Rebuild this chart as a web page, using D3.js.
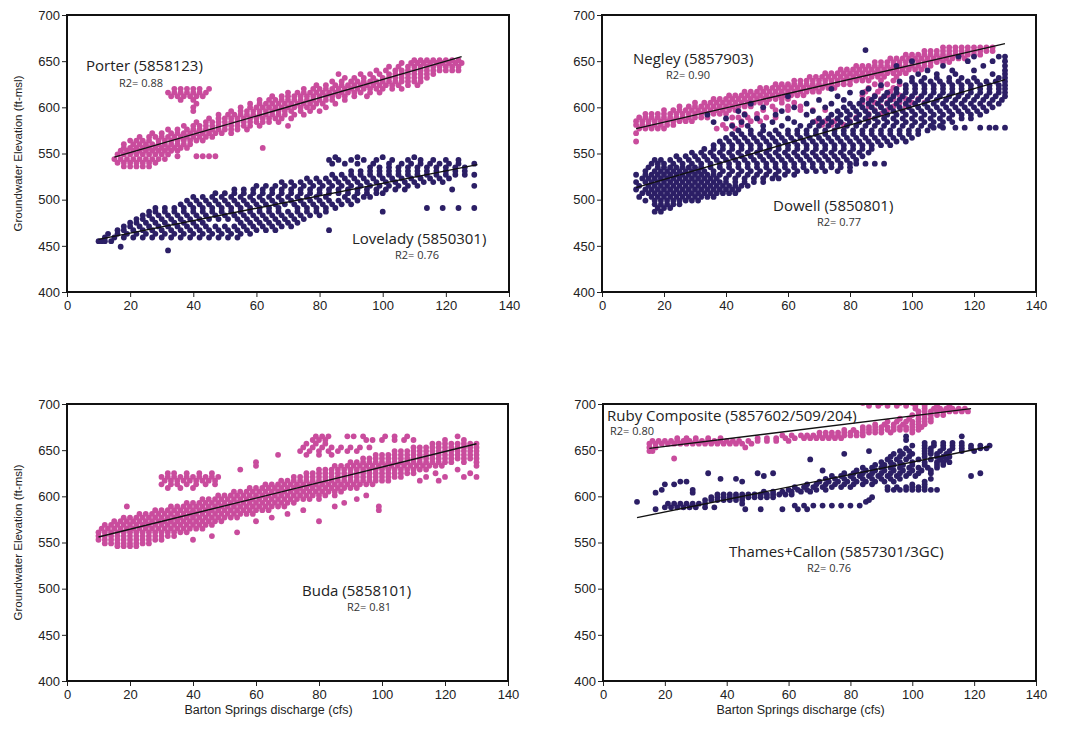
<!DOCTYPE html>
<html><head><meta charset="utf-8">
<script src="https://cdn.jsdelivr.net/npm/d3@7"></script>
<style>body{margin:0;background:#fff}</style>
</head><body>
<svg id="chart" width="1069" height="730"></svg>
<script>
// ---------- DATA ----------
const xTicks = [0,20,40,60,80,100,120,140];
const yTicks = [400,450,500,550,600,650,700];
const xDomain = [0,140];
const yDomain = [400,700];
const xTitle = "Barton Springs discharge (cfs)";
const yTitle = "Groundwater Elevation (ft-msl)";

const seriesNames = ["Porter (5858123)","Lovelady (5850301)","Negley (5857903)","Dowell (5850801)","Buda (5858101)","Ruby Composite (5857602/509/204)","Thames+Callon (5857301/3GC)"];
const r2Labels = ["R2= 0.88","R2= 0.76","R2= 0.90","R2= 0.77","R2= 0.81","R2= 0.80","R2= 0.76"];

// regression lines [x1,y1,x2,y2]
const porterFit = [15,546,125,655];
const loveladyFit = [10,457,130,538];
const negleyFit = [11,577,130,669];
const dowellFit = [11,513,130,630];
const budaFit = [10,556,130,657];
const rubyFit = [15,652,119,695];
const thamesFit = [11,577,125,654];

// rows: [elevation, discharge, discharge, ...]
const porterRows = [
[536,18,20,22,24,26],
[540,16,18,20,22,24,26,28],
[544,15,17,19,21,23,25,27,29,31],
[547,35,41,43,45,47],
[549,16,18,20,22,24,26,28,30,32],
[553,17,19,21,23,25,27,29,31,33,35],
[556,18,20,22,24,26,28,30,32,34,36,38,62],
[560,18,21,23,25,27,29,31,33,35,37,39],
[564,20,22,24,26,29,31,33,35,37,39,41,43],
[568,23,26,28,30,32,34,36,38,40,42,44,46],
[572,27,30,33,35,37,39,41,43,45,47,49,52],
[576,32,35,38,40,42,44,46,48,50,52,54,57],
[580,37,40,42,44,46,48,50,52,54,56,58,61,70],
[584,41,44,46,48,50,52,54,56,58,60,62,64,67],
[588,45,48,50,52,54,56,58,60,62,64,66,68,71],
[592,48,51,53,55,57,59,61,63,65,67,69,72,75],
[596,40,52,55,57,59,61,63,65,67,69,71,74,77,80],
[600,40,55,58,60,62,64,66,68,70,72,74,76,78,82],
[604,41,58,61,63,65,67,69,71,73,75,77,79,81,85],
[608,36,40,61,64,66,68,70,72,74,76,78,80,82,84,88],
[612,33,35,37,39,41,43,65,68,70,72,74,76,78,80,82,84,86,88,91,95],
[616,32,34,36,38,40,42,44,70,73,75,77,79,81,83,85,87,89,91,93,96,99],
[620,34,36,38,40,42,45,75,78,80,82,84,86,88,90,92,94,96,98,100,103,106],
[624,79,82,85,87,89,91,93,95,97,99,101,103,105,108,111],
[628,84,87,90,92,94,96,98,100,102,104,106,108,110,112],
[632,88,91,94,97,100,102,104,106,108,110,112,114],
[636,86,93,96,99,102,104,106,108,110,112,114,116],
[640,98,101,104,106,108,110,112,114,116,118,120,122,124],
[644,102,105,108,110,112,114,116,118,120,122,124],
[648,106,109,111,113,115,117,119,121,123,125],
[651,110,112,114,116,118,120,122,124]
];
const loveladyRows = [
[445,32],
[449,17],
[455,10,11,12,14],
[459,12,15,18,21,24,27,30,33,36,39,42,45,48,51,54],
[463,13,16,19,22,25,28,31,34,37,40,43,46,49,52,55,58],
[467,16,18,21,24,27,30,33,36,39,42,45,48,51,54,57,60,63,66,83],
[471,18,20,23,26,29,32,35,38,41,44,47,50,53,56,59,62,65,68,71],
[475,20,22,25,28,31,34,37,40,43,55,58,61,64,67,70,73],
[479,22,24,27,30,33,36,39,42,45,48,51,54,57,60,63,66,69,72,75],
[483,24,26,29,32,35,38,41,44,47,50,53,56,59,62,65,68,71,74,77,80],
[487,26,28,31,34,37,40,43,46,49,52,55,58,61,64,67,70,73,76,79,82,100],
[491,28,31,34,37,40,43,46,49,52,55,58,61,64,67,73,76,79,82,85,114,119,124,129],
[495,36,39,42,45,48,51,54,57,60,63,66,69,72,75,78,81,84,87,90],
[499,38,41,44,47,50,53,56,59,62,65,68,71,74,77,80,83,86,89,92],
[503,40,43,46,49,52,55,58,61,64,67,70,73,76,79,82,88,91,94,96],
[507,47,50,53,56,59,62,65,68,71,74,77,80,83,86,89,92,95,98,100],
[511,53,56,59,62,65,68,71,74,77,80,83,86,89,92,95,98,101,104,107,122],
[515,60,63,66,69,72,75,78,81,84,87,90,93,96,99,102,105,108,111,129],
[519,68,71,74,77,80,83,86,89,92,95,98,101,104,107,110,113,116,119],
[523,76,79,82,85,88,91,94,97,100,103,106,109,112,115,118,121],
[527,84,87,90,93,96,99,102,105,108,111,114,117,120,123,126,129],
[531,90,93,96,99,102,105,108,111,114,117,120,123,126],
[535,96,99,102,105,108,111,114,117,120,123,126],
[539,84,88,92,97,102,106,109,112,115,118,121,124,129],
[543,83,86,90,94,98,103,108,112,116,120,124],
[546,85,92,100,110]
];
const negleyRows = [
[563,11],
[572,11],
[577,12,14,16,18,20,37,40,43],
[581,11,13,15,17,19,21,23,39,42,45,71,74,78],
[585,11,13,15,17,19,21,23,25,27,29,45,48,51,69,72,75,80],
[589,12,14,16,18,20,22,24,26,28,30,32,34,42,44,47,50,53,56,82,86],
[593,14,16,18,20,22,24,26,28,30,32,34,36,38,40,46,50,86,90],
[597,20,23,25,27,29,31,33,35,37,39,41,43,52,56,60,64,68,72,88,92],
[601,25,28,30,32,34,36,38,40,42,44,46,48,55,60,64,86,90,94,98],
[605,30,33,35,37,39,41,43,45,47,49,51,53,58,62,84,88,92,96,100,104],
[609,36,38,40,42,44,46,48,50,52,54,56,58,60,86,90,94,98,102],
[613,41,43,45,47,49,51,53,55,57,59,61,63,65,84,88,92,96],
[617,46,48,50,52,54,56,58,60,62,64,66,68,70,85,89,93],
[621,51,53,55,57,59,61,63,65,67,69,71,73,75,86,90,94],
[625,56,58,60,62,64,66,68,70,72,74,76,78,80,88,92,96],
[629,62,64,66,68,70,72,74,76,78,80,82,84,86,90,94],
[633,67,69,71,73,75,77,79,81,83,85,87,89,91,95],
[637,72,74,76,78,80,82,84,86,88,90,92,94,96,98],
[641,77,79,81,83,85,87,89,91,93,95,97,99,101,103],
[645,82,84,86,88,90,92,94,96,98,100,102,104,106],
[649,88,90,92,94,96,98,100,102,104,106,108,110,112],
[653,93,95,97,99,101,103,105,107,109,111,113,115,117],
[657,98,100,102,104,106,108,110,112,114,116,118,120,122],
[661,104,106,108,110,112,114,116,118,120,122,124,126],
[665,110,112,114,116,118,120,122,124,126]
];
const dowellRows = [
[487,17,19],
[491,18,20,22],
[495,17,19,21,23,25],
[499,14,17,19,21,23,25,27,29,31],
[503,12,16,18,20,22,24,26,28,30,32,34,36],
[507,13,15,17,19,21,23,25,27,29,31,33,35,37,39,41,43],
[511,11,14,16,18,20,22,24,26,28,30,32,34,36,38,40,42,44],
[515,12,15,17,19,21,23,25,27,29,31,33,35,37,39,41,43,45,47],
[519,11,14,16,18,20,22,24,26,28,30,32,34,36,38,40,43,46,49,52],
[523,13,15,17,19,21,23,25,27,29,31,33,35,37,40,43,46,49,52,55,57],
[527,11,14,16,18,20,22,24,26,28,30,32,34,36,38,41,44,47,50,53,56,59,62],
[531,14,17,19,21,23,25,27,29,31,33,36,39,42,45,48,51,54,57,60,63,66,69,72,76,80],
[535,15,18,20,22,24,26,28,30,32,35,38,41,44,47,50,53,56,59,62,65,68,71,74,77,80],
[539,16,18,20,23,26,29,32,35,38,41,44,47,50,53,56,59,62,65,68,71,74,77,80,82,85,88,91],
[543,17,19,22,25,28,31,34,37,40,43,46,49,52,55,58,61,64,67,70,73,76,79,82],
[547,24,27,30,33,36,39,42,45,48,51,54,57,60,63,66,69,72,75,78,81,84],
[551,29,32,35,38,41,44,47,50,53,56,59,62,65,68,71,74,77,80,83,86],
[555,33,36,39,42,45,48,51,54,57,60,63,66,69,72,75,78,81,84,87],
[559,36,39,42,45,48,51,54,57,60,63,66,69,72,75,78,81,84,87,90,93],
[563,38,41,44,47,50,53,56,59,62,65,68,71,74,77,80,83,86,89,92,95,98],
[567,40,43,46,49,52,55,58,61,64,67,70,73,76,79,82,85,88,91,94,97,100],
[571,42,45,48,51,54,57,60,63,66,69,72,75,78,81,84,87,90,93,96,99,102],
[575,44,48,52,56,60,63,66,69,72,75,78,81,84,87,90,93,96,99,102,105],
[578,107,110,114,117,122,125,127,130],
[580,42,47,52,58,64,67,70,73,76,79,82,85,88,91,94,97,100,103,106,109],
[584,36,45,55,62,68,71,74,77,80,83,86,89,92,95,98,101,104,107,110,113],
[588,40,50,60,70,73,76,79,82,85,88,91,94,97,100,103,106,109,112,116,119],
[592,34,46,56,66,74,77,80,83,86,89,92,95,98,101,104,107,110,113,116,119,122],
[596,44,58,68,76,79,82,85,88,91,94,97,100,103,106,109,112,115,118,121,124],
[600,52,62,72,78,81,84,87,90,93,96,99,102,105,108,111,114,117,120,123,126],
[604,48,66,74,80,83,86,89,92,95,98,101,104,107,110,113,116,119,122,125,128],
[608,70,78,84,87,90,93,96,99,102,105,108,111,114,117,120,123,126,129],
[612,60,76,88,91,94,97,100,103,106,109,112,115,118,121,124,127,130],
[616,80,84,92,95,98,101,104,107,110,113,116,119,122,125,128,130],
[620,74,86,95,98,101,104,107,110,113,116,119,122,125,128,130],
[624,90,98,101,104,107,110,113,116,119,122,125,128,130],
[628,96,100,103,106,109,112,115,118,121,124,127,130],
[632,100,104,108,112,116,120,128,130],
[636,102,108,114,126,130],
[640,105,113,120,130],
[645,95,110,123,130],
[650,100,118,126,130],
[655,115,120,128,130],
[662,85]
];
const budaRows = [
[546,16,18,20,22],
[549,12,14,16,18,20,22,24,26],
[553,10,12,14,16,18,20,22,24,26,28,30,40],
[557,10,12,14,16,18,20,22,24,26,28,30,32,34,46],
[561,10,12,14,16,18,20,22,24,26,28,30,32,34,36,38,54],
[565,11,13,15,17,19,21,23,25,27,29,31,33,35,37,39,41,43],
[569,12,14,16,18,20,22,24,26,28,30,32,34,36,38,40,42,44,46],
[573,15,17,19,21,23,25,27,29,31,33,35,37,39,41,43,45,47,49,60,80],
[577,18,20,22,24,26,28,30,32,34,36,38,40,42,44,46,48,50,52,54,65],
[581,23,25,27,29,31,33,35,37,39,41,43,45,47,49,51,53,55,57,59,70],
[585,28,30,32,34,36,38,40,42,44,46,48,50,52,54,56,58,60,62,64,75,99],
[589,19,33,35,37,39,41,43,45,47,49,51,53,55,57,59,61,63,65,67,69,85,99],
[593,38,40,42,44,46,48,50,52,54,56,58,60,62,64,66,68,70,72,88],
[597,43,45,47,49,51,53,55,57,59,61,63,65,67,69,71,73,75,77,80,92],
[601,48,50,52,54,56,58,60,62,64,66,68,70,72,74,76,78,80,82,85,95],
[605,53,55,57,59,61,63,65,67,69,71,73,75,77,79,81,83,85,87],
[609,32,36,40,58,60,62,64,66,68,70,72,74,76,78,80,82,84,86,88,90,92],
[613,30,33,35,38,41,44,47,63,65,67,69,71,73,75,77,79,81,83,85,87,89,91,93,95,97],
[617,31,33,35,37,39,41,43,45,47,68,70,72,74,76,78,80,82,84,86,88,90,92,94,96,98,100,102,112,118],
[621,30,32,34,36,38,40,42,44,46,48,72,74,76,78,80,82,84,86,88,90,92,94,96,98,100,102,104,106,114,120,126,130],
[625,32,34,38,42,46,76,78,80,82,84,86,88,90,92,94,96,98,100,102,104,106,108,110,117,128],
[629,55,80,82,84,86,88,90,92,94,96,98,100,102,104,106,108,110,112,114,124],
[633,60,85,87,89,91,93,95,97,99,101,103,105,107,109,111,113,115,117,119,130],
[637,60,90,92,94,96,98,100,102,104,106,108,110,112,114,116,118,120,122,126,130],
[641,94,96,98,100,102,104,106,108,110,112,114,116,118,120,122,124,126,128,130],
[645,67,76,80,84,98,100,102,104,106,108,110,112,114,116,118,120,122,124,126,128,130],
[649,74,77,80,83,86,89,92,104,106,108,110,112,114,116,118,120,122,124,126,128,130],
[653,75,78,81,84,87,90,93,96,110,112,114,116,118,120,122,124,126,128,130],
[657,76,79,82,116,118,120,122,124,126,128,130],
[661,78,80,82,95,97,100,104,107,110,120,126],
[665,79,81,83,89,91,94,101,104,108,124]
];
const rubyRows = [
[641,23],
[649,15,16],
[653,15,17,46],
[657,15,17,19,21,23,25,27,29,31,33,35,37,39,41,43,45,48],
[660,16,18,20,22,24,26,28,30,32,34,36,38,40,42,44,47,50,53,56,60],
[663,24,27,30,34,38,50,53,56,59,62,65,67,69,71,73,75,77],
[666,58,61,64,66,68,70,72,74,76,78,80,82,84],
[669,70,72,74,76,78,80,82,84,86,88,90,93,100],
[672,78,81,84,86,88,90,92,94,96,98,100,102],
[675,84,86,88,90,92,94,96,98,100,102,103],
[678,88,91,94,97,100,102,104],
[681,92,95,98,100,102,104,106],
[684,96,99,102,104,106],
[688,100,102,104,106,108,110],
[692,102,104,106,108,110,112,114,116,118],
[695,101,104,107,109,111,113,115,117],
[698,86,89,92,95,98,101,104,108,112],
[701,84,90,96,100,104,108]
];
const thamesRows = [
[586,17,46,51,58,63,66],
[588,20,22,24,26,28,30,33,36],
[590,62,65,68,71,74,77,80,83],
[592,21,23,25,27,29,31,33,45],
[594,11,85],
[596,33,35,37,39,41,43,45,86],
[599,35,37,39,41,43,45,47,49,51,53,55,87],
[602,37,39,41,43,45,47,49,51,53,55,57,59,61],
[604,17,29],
[605,52,55,58,61,64,67],
[607,19,29,60,63,66,69,72,92,94,96,98,100,102,104,106,108],
[610,62,65,68,71,74,77,80,92,95,98,100,102,104],
[613,20,23,66,69,72,75,78,81,84,87,100,104],
[616,25,27,45,70,73,76,79,82,85,88,91,94,104],
[619,38,43,72,75,78,81,84,87,90,93,96,106],
[622,52,74,77,80,83,86,89,92,95,98,101,119],
[625,34,50,55,78,81,84,87,90,93,96,99,102,106,122],
[628,71,82,85,88,91,94,97,100,103,106],
[631,84,87,90,93,96,99,102,105,108],
[634,88,91,94,97,100,104,108,110],
[637,90,93,96,100,104,108,110,112],
[640,67,92,95,98,102,106,109,111],
[643,93,96,99,104,108,110,112],
[646,78,94,97,100,104,106,108,111],
[649,86,96,99,104,106,109,112,116,120],
[652,98,104,106,110,113,116,119,122,124],
[655,100,104,107,110,113,116,119,122,125],
[658,104,107,110,113,116],
[661,98],
[665,98,116]
];

// ---------- LAYOUT / STYLE ----------
const PINK = "#c94c9d", NAVY = "#2c1f66";
const panels = [
  {box:[67,15,509,292], yTitle:true, xTitle:false, series:[
    {rows:porterRows, fit:porterFit, color:PINK, name:0, nameXY:[86,71], r2XY:[119,87]},
    {rows:loveladyRows, fit:loveladyFit, color:NAVY, name:1, nameXY:[352,244], r2XY:[395,259]}]},
  {box:[602,15,1036,292], yTitle:false, xTitle:false, series:[
    {rows:negleyRows, fit:negleyFit, color:PINK, name:2, nameXY:[633,64], r2XY:[666,79]},
    {rows:dowellRows, fit:dowellFit, color:NAVY, name:3, nameXY:[773,211], r2XY:[817,226]}]},
  {box:[67,404,508,681], yTitle:true, xTitle:true, series:[
    {rows:budaRows, fit:budaFit, color:PINK, name:4, nameXY:[302,596], r2XY:[347,611]}]},
  {box:[603,404,1036,681], yTitle:false, xTitle:true, series:[
    {rows:rubyRows, fit:rubyFit, color:PINK, name:5, nameXY:[607,421], r2XY:[610,435]},
    {rows:thamesRows, fit:thamesFit, color:NAVY, name:6, nameXY:[729,557], r2XY:[807,572]}]}
];

const svg = d3.select("#chart");
const AX = '"Liberation Sans", Arial, sans-serif';
const LBL = '"Open Sans", "Noto Sans", sans-serif';

panels.forEach((p,i)=>{
  const [L,T,R,B] = p.box;
  const x = d3.scaleLinear().domain(xDomain).range([L,R]);
  const y = d3.scaleLinear().domain(yDomain).range([B,T]);
  const g = svg.append("g");
  const cid = "clip"+i;
  svg.append("clipPath").attr("id",cid).append("rect")
    .attr("x",L).attr("y",T).attr("width",R-L).attr("height",B-T);
  const plot = g.append("g").attr("clip-path",`url(#${cid})`);

  p.series.forEach(s=>{
    const pts = s.rows.flatMap(([yy,...xs])=>xs.map(xx=>({x:xx,y:yy})));
    plot.append("g").selectAll("circle").data(pts).join("circle")
      .attr("cx",d=>x(d.x)).attr("cy",d=>y(d.y)).attr("r",2.9)
      .attr("fill",s.color);
  });
  p.series.forEach(s=>{
    const f = s.fit;
    plot.append("line").attr("x1",x(f[0])).attr("y1",y(f[1]))
      .attr("x2",x(f[2])).attr("y2",y(f[3]))
      .attr("stroke","#111").attr("stroke-width",1.4);
  });

  // axes
  const ya = g.append("g").attr("transform",`translate(${L},0)`)
    .call(d3.axisLeft(y).tickValues(yTicks).tickSize(5).tickPadding(2).tickFormat(d3.format("d")));
  const xa = g.append("g").attr("transform",`translate(0,${B})`)
    .call(d3.axisBottom(x).tickValues(xTicks).tickSize(5).tickPadding(4).tickFormat(d3.format("d")));
  [ya,xa].forEach(a=>{
    a.select(".domain").remove();
    a.selectAll("line").attr("stroke","#222");
    a.selectAll("text").attr("font-family",AX).attr("font-size",13).attr("fill","#222");
  });
  g.append("rect").attr("x",L).attr("y",T).attr("width",R-L).attr("height",B-T)
    .attr("fill","none").attr("stroke","#111").attr("stroke-width",2);

  if(p.yTitle){
    g.append("text").attr("transform",`translate(22,${(T+B)/2}) rotate(-90)`)
      .attr("text-anchor","middle").attr("font-family",AX).attr("font-size",11.5)
      .attr("fill","#222").text(yTitle);
  }
  if(p.xTitle){
    g.append("text").attr("x",(L+R)/2-19).attr("y",714)
      .attr("text-anchor","middle").attr("font-family",AX).attr("font-size",12.5)
      .attr("fill","#222").text(xTitle);
  }
  p.series.forEach(s=>{
    g.append("text").attr("x",s.nameXY[0]).attr("y",s.nameXY[1])
      .attr("font-family",LBL).attr("font-size",15).attr("fill","#222")
      .text(seriesNames[s.name]);
    g.append("text").attr("x",s.r2XY[0]).attr("y",s.r2XY[1])
      .attr("font-family",LBL).attr("font-size",11).attr("fill","#333")
      .text(r2Labels[s.name]);
  });
});
</script>
</body></html>
